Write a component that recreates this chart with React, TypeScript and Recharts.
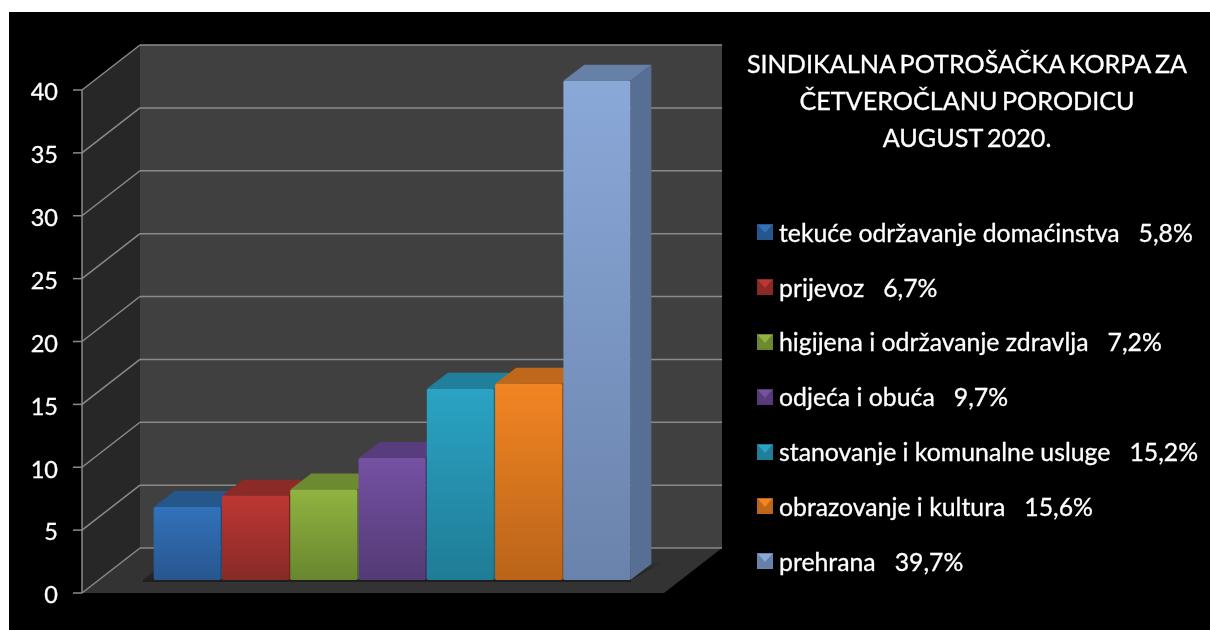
import { BarChart, Bar, XAxis, YAxis, CartesianGrid } from "recharts";

const categories = [
  "tekuće održavanje domaćinstva",
  "prijevoz",
  "higijena i održavanje zdravlja",
  "odjeća i obuća",
  "stanovanje i komunalne usluge",
  "obrazovanje i kultura",
  "prehrana",
];
const values = [5.8, 6.7, 7.2, 9.7, 15.2, 15.6, 39.7];
const valueLabels = ["5,8%", "6,7%", "7,2%", "9,7%", "15,2%", "15,6%", "39,7%"];
const yTicks = [0, 5, 10, 15, 20, 25, 30, 35, 40];
const titleLines = ["SINDIKALNA POTROŠAČKA KORPA ZA", "ČETVEROČLANU PORODICU", "AUGUST 2020."];

// light, dark, top face, side face
const palette = [
  ["#3272bb", "#27568e", "#25568c", "#1f4a78"],
  ["#bd3733", "#872a27", "#8c2a27", "#742320"],
  ["#90b440", "#68862f", "#6c8a30", "#5a7328"],
  ["#7551a3", "#533a75", "#573d7b", "#483265"],
  ["#2ba3c4", "#1f7c96", "#20809b", "#1b6a80"],
  ["#f28522", "#b9641a", "#bf671a", "#9e5516"],
  ["#8aa8d8", "#6a83ac", "#6680a8", "#586f94"],
];

const data = categories.map((name, i) => ({ name, value: values[i] }));

// fake 3D box depth
const WALL_DX = 58;
const WALL_DY = 45;
const BAR_DX = 21;
const BAR_DY = 16;
const BAR_LIFT = 13;
const PAD_LEFT = 71;
const PAD_RIGHT = 33;
const GRID = "#8a8a8a";

function Walls({ x, y, width, height }: any) {
  const bottom = y + height;
  const base = bottom - BAR_LIFT;
  return (
    <g stroke="none">
      <defs>
        <linearGradient id="floorShadow" x1="0" y1="1" x2="0" y2="0">
          <stop offset="0%" stopColor="#1e1e1e" />
          <stop offset="100%" stopColor="#303030" />
        </linearGradient>
      </defs>
      <rect x={x + WALL_DX} y={y - WALL_DY} width={width} height={height} fill="#404040" />
      <polygon
        points={`${x},${y} ${x + WALL_DX},${y - WALL_DY} ${x + WALL_DX},${bottom - WALL_DY} ${x},${bottom}`}
        fill="#272727"
      />
      <polygon
        points={`${x},${bottom} ${x + WALL_DX},${bottom - WALL_DY} ${x + width + WALL_DX},${bottom - WALL_DY} ${x + width},${bottom}`}
        fill="#333333"
      />
      <polygon
        points={`${x + 61},${base + 2} ${x + 61},${base} ${x + 80},${base - BAR_DY} ${x + width},${base - 18} ${x + width - PAD_RIGHT},${base} ${x + width - PAD_RIGHT},${base + 2}`}
        fill="url(#floorShadow)"
      />
      <line x1={x} y1={y} x2={x} y2={bottom} stroke={GRID} strokeWidth={1.5} />
    </g>
  );
}

// the first grid line also paints the walls, so everything else stays on top
function GridLine(props: any) {
  const { x1, y1, x2, y2, index, x, y, width, height } = props;
  return (
    <g>
      {index === 0 && <Walls x={x} y={y} width={width} height={height} />}
      <g stroke={GRID} strokeWidth={1.5} fill="none">
        <line x1={x1 - 9} y1={y1} x2={x1} y2={y1} />
        <line x1={x1} y1={y1} x2={x1 + WALL_DX} y2={y1 - WALL_DY} />
        <line x1={x1 + WALL_DX} y1={y1 - WALL_DY} x2={x2 + WALL_DX} y2={y2 - WALL_DY} />
      </g>
    </g>
  );
}

function Box(props: any) {
  const { x, y, width, height, index } = props;
  const [light, dark, top, side] = palette[index];
  const fy = y - BAR_LIFT;
  const right = x + width;
  return (
    <g>
      <defs>
        <linearGradient id={`front${index}`} x1="0" y1="0" x2="0" y2="1">
          <stop offset="0%" stopColor={light} />
          <stop offset="100%" stopColor={dark} />
        </linearGradient>
      </defs>
      <polygon
        points={`${right},${fy} ${right + BAR_DX},${fy - BAR_DY} ${right + BAR_DX},${fy - BAR_DY + height} ${right},${fy + height}`}
        fill={side}
      />
      <polygon
        points={`${x},${fy} ${x + BAR_DX},${fy - BAR_DY} ${right + BAR_DX},${fy - BAR_DY} ${right},${fy}`}
        fill={top}
      />
      <rect x={x} y={fy} width={width} height={height} rx={1.5} fill={`url(#front${index})`} />
    </g>
  );
}

function Swatch({ colors }: { colors: string[] }) {
  const [light, dark, top] = colors;
  return (
    <svg width={16} height={16} style={{ flex: "none" }}>
      <rect width={16} height={16} fill={dark} />
      <polygon points="2,5 14,5 14,14 2,14" fill={top} />
      <polygon points="1,1 15,1 8,9" fill={light} />
    </svg>
  );
}

const textStyle = { color: "#fff", fontFamily: "Lato", WebkitTextStroke: "0.3px #fff" };

export default function App() {
  return (
    <div style={{ position: "absolute", left: 0, top: 0, width: 1210, height: 630, background: "#fff", overflow: "hidden" }}>
      <div style={{ position: "absolute", left: 9, top: 12, width: 1201, height: 618, background: "#000" }} />
      <div style={{ position: "absolute", left: 0, top: 0, filter: "blur(0.4px)" }}>
        <BarChart
          width={1210}
          height={630}
          data={data}
          barCategoryGap="1%"
          margin={{ top: 90, right: 546, bottom: 37, left: 0 }}
        >
          <CartesianGrid vertical={false} horizontal={<GridLine />} />
          <YAxis
            width={82}
            domain={[0, 40]}
            ticks={yTicks}
            interval={0}
            axisLine={false}
            tickLine={false}
            tickMargin={18}
            tick={{ fill: "#fff", stroke: "#fff", strokeWidth: 0.3, fontSize: 23.5, fontFamily: "Lato", dy: 2 }}
          />
          <XAxis dataKey="name" hide padding={{ left: PAD_LEFT, right: PAD_RIGHT }} />
          <Bar dataKey="value" isAnimationActive={false} shape={<Box />} />
        </BarChart>
        <div style={{ ...textStyle, position: "absolute", left: 746, top: 45, width: 442, textAlign: "center", fontSize: 25.2, wordSpacing: -2, lineHeight: "37px" }}>
          {titleLines.map((line) => (
            <div key={line} style={{ whiteSpace: "nowrap" }}>{line}</div>
          ))}
        </div>
        <div style={{ ...textStyle, position: "absolute", left: 757, top: 205, fontSize: 24.8 }}>
          {categories.map((name, i) => (
            <div key={name} style={{ display: "flex", alignItems: "center", height: 54.8, whiteSpace: "pre" }}>
              <Swatch colors={palette[i]} />
              <span style={{ marginLeft: 6 }}>{name + "   " + valueLabels[i]}</span>
            </div>
          ))}
        </div>
      </div>
    </div>
  );
}
